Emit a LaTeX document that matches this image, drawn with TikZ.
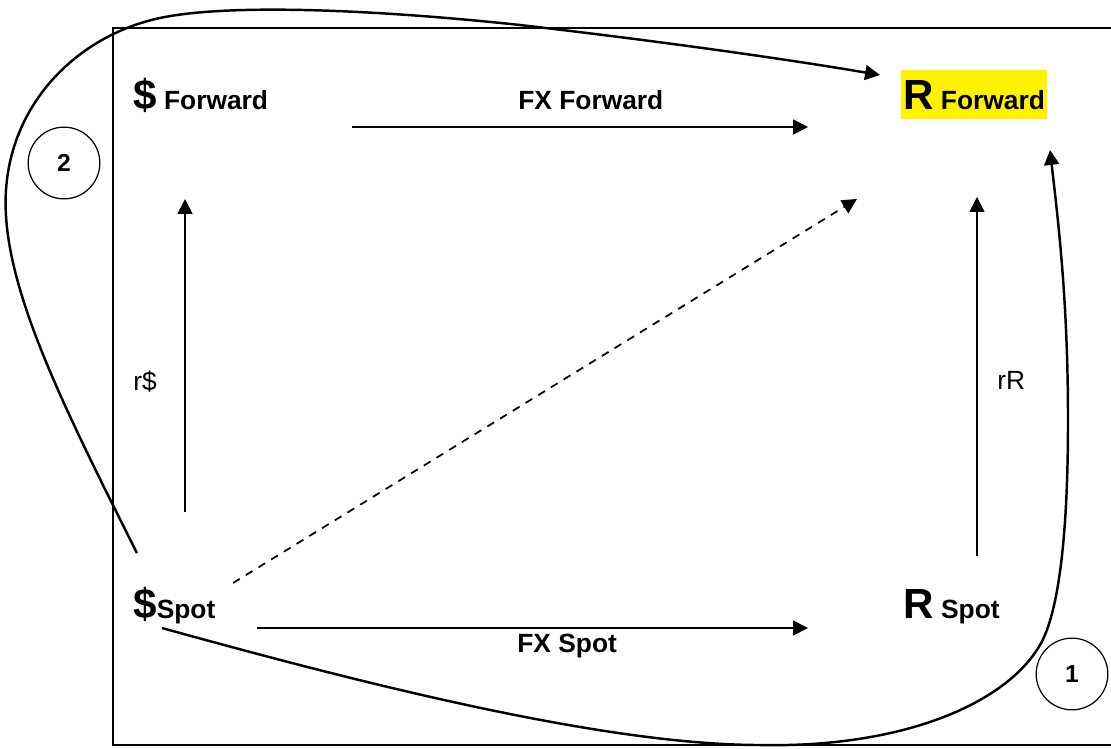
\documentclass[tikz,border=0pt]{standalone}
\usepackage{fontspec}
\setmainfont{Liberation Sans}
\usetikzlibrary{positioning, arrows.meta}
\newcommand{\bigcur}[1]{{\fontsize{24}{28}\selectfont #1}}
\tikzset{
>={Triangle[length=8.5pt,width=8.5pt]},% filled heads everywhere
link/.style={->, line width=1pt}, % the straight arrows
trip/.style={->, line width=1.4pt}, % the two long round trips
lbl/.style={font=\bfseries\fontsize{15}{18}\selectfont, inner sep=0pt, anchor=base west}, % market names
rate/.style={font=\fontsize{15}{18}\selectfont, inner sep=0pt, anchor=base west}, % interest rates
tag/.style={draw, circle, line width=0.7pt, minimum size=40.8pt, inner sep=0pt, font=\bfseries\fontsize{14}{16}\selectfont}, % route numbers
}

\begin{document}
\begin{tikzpicture}[x=0.02cm, y=-0.02cm]
        \useasboundingbox (0,0) rectangle (1111,748);
        \draw[line width=1pt] (113,28) rectangle (1116,745);

        \node[lbl] (dFwd) at (133,109) {\bigcur{\$} Forward};
        \node[lbl, fill=yellow, inner xsep=1pt, text height=22pt, text depth=5.7pt] (rFwd) at (901,109) {\bigcur{R} Forward};
        \node[lbl] (dSpot) at (133,618) {\bigcur{\$}Spot};
        \node[lbl] (rSpot) at (903,618) {\bigcur{R} Spot};
        \node[lbl] (fxFwd) at (518,109) {FX Forward};
        \node[lbl] (fxSpot) at (517,652) {FX Spot};
        \node[rate] (rDol) at (133,390) {r\$};
        \node[rate] (rRand) at (997,389) {rR};
        \node[tag] (two) at (64,163) {2};
        \node[tag] (one) at (1072,674) {1};

        \coordinate (fwdTail) at (352,127);
        \coordinate (fwdHead) at (808,127);
        \coordinate (spotTail) at (257,628);
        \coordinate (spotHead) at (808,628);
        \coordinate (dolTail) at (185,512);
        \coordinate (dolHead) at (185,199);
        \coordinate (randTail) at (977,556);
        \coordinate (randHead) at (977,197);
        \coordinate (crossTail) at (233,583);
        \coordinate (crossHead) at (857,199);
        \coordinate (oneTail) at (162,628);
        \coordinate (oneHead) at (1050,150);
        \coordinate (twoTail) at (137,553);
        \coordinate (twoHead) at (880,75);

        \draw[link] (fwdTail) -- (fwdHead);
        \draw[link] (spotTail) -- (spotHead);
        \draw[link] (dolTail) -- (dolHead);
        \draw[link] (randTail) -- (randHead);
        \draw[link, dash pattern=on 4.5pt off 4pt] (crossTail) -- (crossHead);

        % route 1: spot dollars round the bottom to the rand forward
        \draw[trip] (oneTail) .. controls (350,680) and (600,745) .. (760,745)
              .. controls (900,748) and (1005,705) .. (1040,645)
              .. controls (1058,614) and (1068,540) .. (1068,420)
              .. controls (1068,300) and (1058,220) .. (oneHead);
        % route 2: spot dollars round the top to the rand forward
        \draw[trip] (twoTail) .. controls (60,400) and (0,280) .. (6,190)
              .. controls (12,100) and (80,35) .. (160,18)
              .. controls (230,3) and (380,10) .. (520,25)
              .. controls (650,40) and (780,58) .. (twoHead);
  \end{tikzpicture}
\end{document}
